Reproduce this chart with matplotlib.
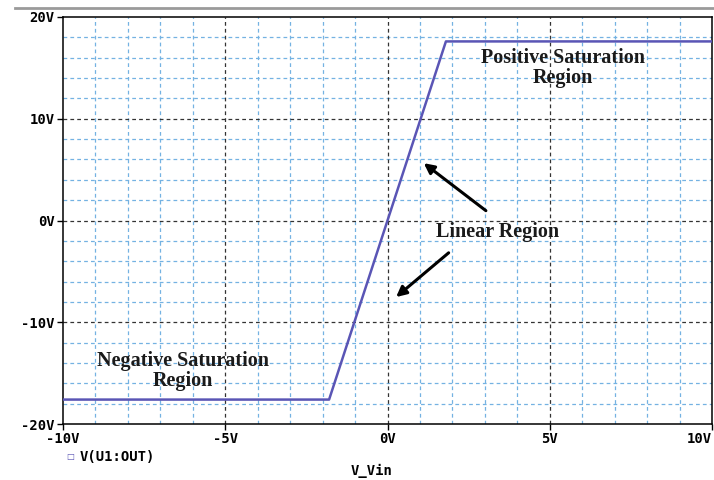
import numpy as np
import matplotlib
matplotlib.use("Agg")
import matplotlib.pyplot as plt
from matplotlib.lines import Line2D

# transfer curve of the op-amp (input V, output V)
v_in = [-10.0, -1.8, 1.8, 10.0]
v_out = [-17.6, -17.6, 17.6, 17.6]

x_ticks = [-10, -5, 0, 5, 10]
x_tick_labels = ["-10V", "-5V", "0V", "5V", "10V"]
y_ticks = [-20, -10, 0, 10, 20]
y_tick_labels = ["-20V", "-10V", "0V", "10V", "20V"]

mono = "DejaVu Sans Mono"
serif = "Liberation Serif"

fig = plt.figure(figsize=(7.14, 4.8), dpi=100)
ax = fig.add_axes([63 / 714, 1 - 424 / 480, 649 / 714, 407 / 480])

# minor grid (blue) then major grid (black)
for xv in np.arange(-9, 10, 1):
    if xv % 5 != 0:
        ax.axvline(xv, color="#74b2e2", lw=0.9, ls=(0, (3, 2.5)), zorder=1)
for yv in np.arange(-18, 19, 2):
    if yv % 10 != 0:
        ax.axhline(yv, color="#74b2e2", lw=0.9, ls=(0, (3, 2.5)), zorder=1)
for xv in [-5, 0, 5]:
    ax.axvline(xv, color="#333333", lw=0.9, ls=(0, (3, 2.5)), zorder=2)
for yv in [-10, 0, 10]:
    ax.axhline(yv, color="#333333", lw=0.9, ls=(0, (3, 2.5)), zorder=2)

ax.plot(v_in, v_out, color="#5a55b5", lw=1.8, zorder=3)

ax.set_xlim(-10, 10)
ax.set_ylim(-20, 20)
ax.set_xticks(x_ticks)
ax.set_xticklabels(x_tick_labels)
ax.set_yticks(y_ticks)
ax.set_yticklabels(y_tick_labels)
for lab in ax.get_xticklabels() + ax.get_yticklabels():
    lab.set_family(mono)
    lab.set_weight("bold")
    lab.set_fontsize(10)
ax.get_xticklabels()[-1].set_horizontalalignment("right")
ax.tick_params(direction="out", length=4, width=1, pad=2)
for s in ax.spines.values():
    s.set_linewidth(1.1)

# annotations
ax.text(5.4, 15.0, "Positive Saturation\nRegion", family=serif, weight="bold",
        fontsize=14.5, ha="center", va="center", linespacing=0.95,
        color="#1a1a1a", zorder=5)
ax.text(3.4, -1.1, "Linear Region", family=serif, weight="bold",
        fontsize=14.5, ha="center", va="center", color="#1a1a1a", zorder=5)
ax.text(-6.3, -14.8, "Negative Saturation\nRegion", family=serif, weight="bold",
        fontsize=14.5, ha="center", va="center", linespacing=0.95,
        color="#1a1a1a", zorder=5)
ax.annotate("", xy=(1.05, 5.8), xytext=(3.1, 0.8),
            arrowprops=dict(arrowstyle="-|>,head_length=0.6,head_width=0.3",
                            color="black", lw=2.2), zorder=5)
ax.annotate("", xy=(0.2, -7.7), xytext=(1.95, -3.0),
            arrowprops=dict(arrowstyle="-|>,head_length=0.6,head_width=0.3",
                            color="black", lw=2.2), zorder=5)

# legend marker and axis label, PSpice style
fig.text(70 / 714, 1 - 457 / 480, "\u25a1", color="#5a55b5", fontsize=6,
         ha="center", va="center")
fig.text(80 / 714, 1 - 457 / 480, "V(U1:OUT)", family=mono, weight="bold",
         fontsize=10, ha="left", va="center")
fig.text(372 / 714, 1 - 471 / 480, "V_Vin", family=mono, weight="bold",
         fontsize=10, ha="center", va="center")

# window border line at the top
fig.add_artist(Line2D([15 / 714, 1], [1 - 7.5 / 480, 1 - 7.5 / 480],
                      color="#9a9a9a", lw=2.0))

fig.savefig("out.png", dpi=100)
